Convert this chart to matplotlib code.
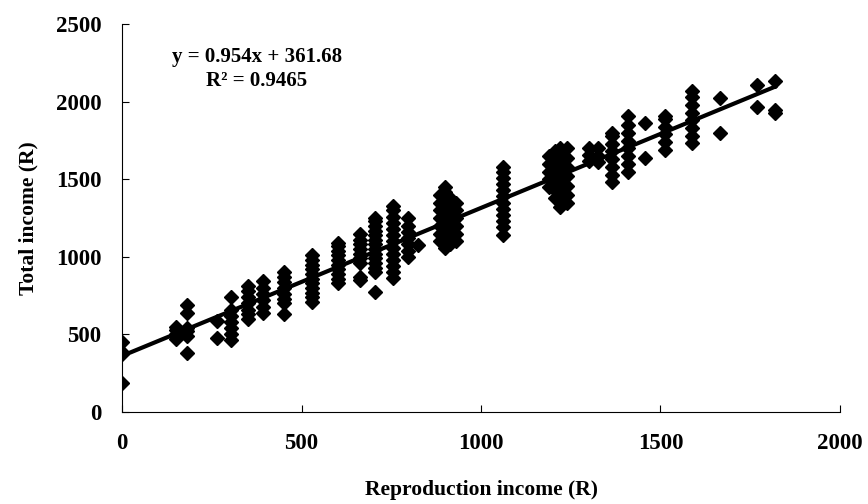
import numpy as np
import matplotlib
matplotlib.use("Agg")
import matplotlib.pyplot as plt

plt.rcParams['font.family'] = ['Liberation Serif', 'DejaVu Serif']
plt.rcParams['font.weight'] = 'bold'

# reproduction income groups (R) and total income values
x_groups = [0, 150, 180, 265, 303, 351, 393, 451, 529, 602, 663, 705, 755,
            797, 825, 885, 900, 915, 930, 1061, 1190, 1205, 1220, 1240,
            1300, 1326, 1365, 1409, 1457, 1513, 1588, 1666, 1769, 1819]
y_groups = [
    [185, 375, 385, 450],
    [470, 500, 530, 545],
    [380, 490, 520, 540, 640, 690],
    [480, 585],
    [465, 500, 540, 580, 620, 660, 740],
    [600, 630, 660, 700, 740, 780, 815],
    [640, 680, 720, 760, 800, 845],
    [630, 700, 730, 760, 800, 840, 870, 900],
    [710, 740, 770, 800, 830, 860, 890, 920, 950, 980, 1010],
    [830, 860, 890, 920, 950, 980, 1010, 1040, 1070, 1090],
    [850, 870, 960, 990, 1020, 1050, 1080, 1110, 1150],
    [773, 900, 930, 960, 990, 1020, 1050, 1080, 1110, 1140, 1170, 1200, 1230, 1250],
    [865, 900, 940, 980, 1020, 1060, 1100, 1140, 1180, 1220, 1260, 1300, 1325],
    [1000, 1040, 1080, 1120, 1160, 1200, 1250],
    [1076],
    [1100, 1150, 1200, 1250, 1300, 1350, 1400],
    [1060, 1120, 1180, 1240, 1300, 1360, 1420, 1450],
    [1080, 1140, 1200, 1260, 1320, 1380],
    [1100, 1150, 1200, 1250, 1300, 1350],
    [1140, 1195, 1230, 1270, 1310, 1350, 1390, 1430, 1470, 1510, 1550, 1580],
    [1450, 1500, 1550, 1600, 1650],
    [1380, 1430, 1480, 1530, 1580, 1630, 1680],
    [1320, 1360, 1420, 1480, 1540, 1600, 1660, 1700],
    [1350, 1400, 1460, 1520, 1580, 1640, 1700],
    [1620, 1660, 1700],
    [1610, 1650, 1705],
    [1485, 1530, 1580, 1630, 1680, 1730, 1780, 1800],
    [1550, 1600, 1650, 1700, 1750, 1800, 1850, 1910],
    [1637, 1862],
    [1690, 1740, 1790, 1840, 1890, 1910],
    [1735, 1780, 1830, 1880, 1930, 1980, 2030, 2070],
    [1798, 2023],
    [1965, 2107],
    [1925, 1946, 2135],
]

slope = 0.954
intercept = 361.68
r_squared = 0.9465

xs = np.concatenate([[x] * len(ys) for x, ys in zip(x_groups, y_groups)])
ys = np.concatenate(y_groups)

fig = plt.figure(figsize=(8.68, 5.04), dpi=100)
ax = fig.add_axes([0.1406, 0.1825, 0.8271, 0.7695])

ax.plot(xs, ys, linestyle='none', marker='D', markersize=7.5, color='black')
fit_x = np.array([0, max(x_groups)])
ax.plot(fit_x, slope * fit_x + intercept, color='black', linewidth=3)

ax.set_xlim(0, 2000)
ax.set_ylim(0, 2500)
ax.set_xticks(np.arange(0, 2001, 500))
ax.set_yticks(np.arange(0, 2501, 500))
ax.tick_params(direction='in', length=5, width=0.8, labelsize=16.5, pad=15)
for lab in ax.get_xticklabels() + ax.get_yticklabels():
    lab.set_fontweight('bold')
ax.spines['top'].set_visible(False)
ax.spines['right'].set_visible(False)

ax.set_xlabel('Reproduction income (R)', fontsize=15.5, fontweight='bold', labelpad=19)
ax.set_ylabel('Total income (R)', fontsize=15.5, fontweight='bold', labelpad=12)

ax.text(375, 2290, f'y = {slope}x + {intercept}', ha='center', va='center',
        fontsize=15, fontweight='bold')
ax.text(375, 2135, f'R² = {r_squared}', ha='center', va='center',
        fontsize=15, fontweight='bold')

fig.savefig('out.png', dpi=100)
